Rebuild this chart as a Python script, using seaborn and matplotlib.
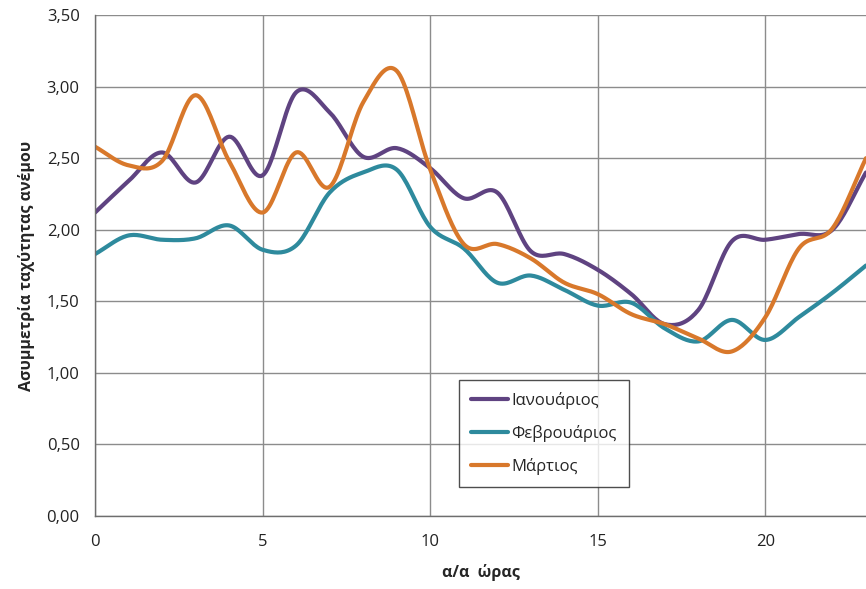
import numpy as np
import pandas as pd
import matplotlib
matplotlib.use("Agg")
import matplotlib.pyplot as plt
from matplotlib.ticker import FuncFormatter, MultipleLocator
import seaborn as sns

hours = list(range(24))
ianouarios = [2.12, 2.34, 2.54, 2.33, 2.65, 2.38, 2.96, 2.82, 2.51, 2.57, 2.43, 2.22,
              2.26, 1.85, 1.83, 1.72, 1.55, 1.34, 1.44, 1.92, 1.93, 1.97, 2.00, 2.40]
fevrouarios = [1.83, 1.96, 1.93, 1.94, 2.03, 1.86, 1.89, 2.26, 2.40, 2.42, 2.02, 1.87,
               1.63, 1.68, 1.58, 1.47, 1.49, 1.31, 1.22, 1.37, 1.23, 1.39, 1.56, 1.75]
martios = [2.58, 2.45, 2.48, 2.94, 2.48, 2.12, 2.54, 2.30, 2.89, 3.11, 2.42, 1.90,
           1.90, 1.80, 1.63, 1.55, 1.41, 1.34, 1.24, 1.15, 1.39, 1.87, 2.01, 2.50]

series = {"Ιανουάριος": ianouarios, "Φεβρουάριος": fevrouarios, "Μάρτιος": martios}
palette = {"Ιανουάριος": "#5f4381", "Φεβρουάριος": "#2e8a9d", "Μάρτιος": "#d8782b"}


def smooth(x, y, n=20):
    # Catmull-Rom spline through the points, like Excel's smoothed line
    x = np.asarray(x, float)
    y = np.asarray(y, float)
    px = np.concatenate([[2 * x[0] - x[1]], x, [2 * x[-1] - x[-2]]])
    py = np.concatenate([[2 * y[0] - y[1]], y, [2 * y[-1] - y[-2]]])
    xs, ys = [], []
    t = np.linspace(0, 1, n, endpoint=False)
    for i in range(1, len(px) - 2):
        for p, out in ((px, xs), (py, ys)):
            p0, p1, p2, p3 = p[i - 1], p[i], p[i + 1], p[i + 2]
            out.extend(0.5 * (2 * p1 + (-p0 + p2) * t + (2 * p0 - 5 * p1 + 4 * p2 - p3) * t ** 2
                              + (-p0 + 3 * p1 - 3 * p2 + p3) * t ** 3))
    xs.append(x[-1])
    ys.append(y[-1])
    return np.array(xs), np.array(ys)


frames = []
for name, vals in series.items():
    sx, sy = smooth(hours, vals)
    frames.append(pd.DataFrame({"hour": sx, "value": sy, "month": name}))
df = pd.concat(frames, ignore_index=True)

sns.set_style("white")
plt.rcParams["font.family"] = ["Open Sans", "DejaVu Sans"]

fig = plt.figure(figsize=(8.66, 5.89), dpi=100)
ax = fig.add_axes([0.1097, 0.1239, 0.8903, 0.8506])

sns.lineplot(data=df, x="hour", y="value", hue="month", palette=palette,
             linewidth=3, sort=False, estimator=None, ax=ax)

ax.set_xlim(0, 23)
ax.set_ylim(0, 3.5)
ax.xaxis.set_major_locator(MultipleLocator(5))
ax.yaxis.set_major_locator(MultipleLocator(0.5))
ax.yaxis.set_major_formatter(FuncFormatter(lambda v, p: f"{v:.2f}".replace(".", ",")))
ax.grid(True, color="#8c8c8c", linewidth=1)
ax.set_axisbelow(True)

for s in ["top", "right"]:
    ax.spines[s].set_visible(False)
for s in ["left", "bottom"]:
    ax.spines[s].set_color("#6e6e6e")
    ax.spines[s].set_linewidth(1)

ax.tick_params(axis="both", direction="out", length=6, width=1, color="#6e6e6e",
               labelsize=12, labelcolor="#222222", pad=5)
ax.tick_params(axis="x", pad=7)

ax.set_xlabel("α/α  ώρας", fontsize=11.5, fontweight="bold", labelpad=10)
ax.set_ylabel("Ασυμμετρία ταχύτητας ανέμου", fontsize=11.5, fontweight="bold", labelpad=8)

leg = ax.legend(loc="upper left", bbox_to_anchor=(0.461, 0.289), frameon=True,
                fancybox=False, edgecolor="#222222", fontsize=12, handlelength=2.2,
                handletextpad=0.2, labelspacing=0.95, borderpad=0.75, title=None)
leg.get_frame().set_linewidth(1)

fig.savefig("out.png", dpi=100)
